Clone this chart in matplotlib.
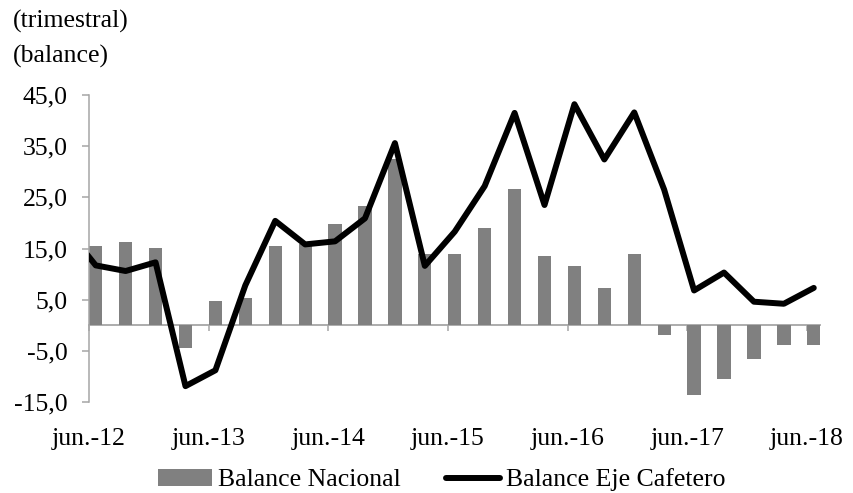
import matplotlib
matplotlib.use("Agg")
import matplotlib.pyplot as plt
import numpy as np

plt.rcParams['font.family'] = ['Liberation Serif', 'DejaVu Serif']
plt.rcParams['font.size'] = 18.5

# Quarterly data, jun-12 ... jun-18
quarters = ["jun.-12", "sep.-12", "dic.-12", "mar.-13",
            "jun.-13", "sep.-13", "dic.-13", "mar.-14",
            "jun.-14", "sep.-14", "dic.-14", "mar.-15",
            "jun.-15", "sep.-15", "dic.-15", "mar.-16",
            "jun.-16", "sep.-16", "dic.-16", "mar.-17",
            "jun.-17", "sep.-17", "dic.-17", "mar.-18",
            "jun.-18"]
balance_nacional = [15.5, 16.3, 15.1, -4.5, 4.7, 5.4, 15.5, 15.8, 19.8, 23.3,
                    32.4, 14.0, 14.0, 19.0, 26.7, 13.6, 11.6, 7.3, 13.9, -1.9,
                    -13.6, -10.5, -6.6, -3.8, -3.8]
# Eje Cafetero series starts one quarter earlier (mar.-12), clipped by the axis
eje_quarters = ["mar.-12"] + quarters
balance_eje = [19.0, 11.7, 10.6, 12.3, -11.9, -8.8, 7.8, 20.4, 15.8, 16.4, 20.9,
               35.6, 11.6, 18.3, 27.2, 41.5, 23.5, 43.2, 32.4, 41.6, 26.5,
               6.8, 10.3, 4.6, 4.2, 7.3]
tick_labels = ["jun.-12", "jun.-13", "jun.-14", "jun.-15", "jun.-16", "jun.-17", "jun.-18"]
y_ticks = [45, 35, 25, 15, 5, -5, -15]

W, H = 854, 493
fig = plt.figure(figsize=(W / 100, H / 100), dpi=100)
ax = fig.add_axes([89 / W, 1 - 402 / H, (820.5 - 89) / W, (402 - 95) / H])

offset = 0.225
xb = np.arange(len(quarters)) + offset
xl = np.arange(len(eje_quarters)) - 1 + offset

bar_color = "#808080"
spine_color = "#a6a6a6"

bars = ax.bar(xb, balance_nacional, width=0.445, color=bar_color,
              label="Balance Nacional", zorder=2)
line, = ax.plot(xl, balance_eje, color="black", lw=4.3, solid_capstyle="round",
                label="Balance Eje Cafetero", zorder=3)

ax.set_xlim(0, 24.45)
ax.set_ylim(-15, 45)

# y axis
ax.set_yticks(y_ticks)
ax.set_yticklabels([f"{v:.1f}".replace(".", ",") for v in y_ticks])
ax.tick_params(axis="y", direction="out", length=5, width=1.1, color=spine_color, pad=10.5)

# x axis at zero
ax.spines["bottom"].set_position(("data", 0))
ax.spines["bottom"].set_color(spine_color)
ax.spines["bottom"].set_linewidth(1.3)
ax.spines["left"].set_color(spine_color)
ax.spines["left"].set_linewidth(1.1)
ax.spines["top"].set_visible(False)
ax.spines["right"].set_visible(False)
ax.spines["bottom"].set_zorder(1)

tick_pos = [quarters.index(t) for t in tick_labels]
ax.set_xticks(tick_pos)
ax.tick_params(axis="x", direction="out", length=4, width=1.1, color=spine_color, labelbottom=False)
trans = ax.get_xaxis_transform()
for p, lab in zip(tick_pos, tick_labels):
    ax.text(p, -43 / 307, lab, transform=trans, ha="center", va="baseline")

fig.text(13 / W, 1 - 28 / H, "(trimestral)", ha="left", va="baseline")
fig.text(13 / W, 1 - 63 / H, "(balance)", ha="left", va="baseline")

fig.legend(handles=[bars, line], loc="center", bbox_to_anchor=(442 / W, 13 / H), ncol=2,
           frameon=False, handlelength=2.1, handleheight=0.66, handletextpad=0.25,
           columnspacing=1.75, borderpad=0, borderaxespad=0)

fig.savefig("out.png", dpi=100)
